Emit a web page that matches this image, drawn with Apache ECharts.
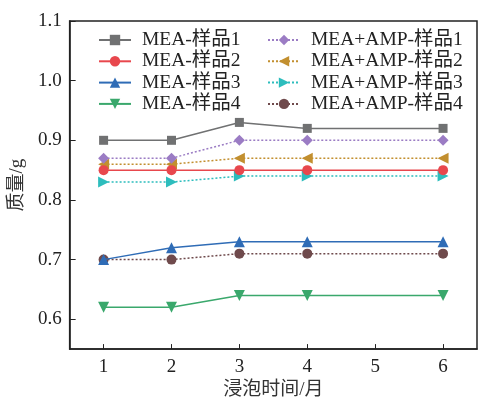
<!DOCTYPE html>
<html><head><meta charset="utf-8">
<script src="https://cdn.jsdelivr.net/npm/echarts@6/dist/echarts.min.js"></script>
<style>html,body{margin:0;padding:0;background:#fff}#c{width:478px;height:405px}</style>
</head><body><div id="c"></div>
<script>
const months = [1, 2, 3, 4, 6];
const xTicks = [1, 2, 3, 4, 5, 6];
const yTicks = [0.6, 0.7, 0.8, 0.9, 1.0, 1.1];
const names = ['MEA-样品1','MEA-样品2','MEA-样品3','MEA-样品4','MEA+AMP-样品1','MEA+AMP-样品2','MEA+AMP-样品3','MEA+AMP-样品4'];
const mea1 = [0.90, 0.90, 0.93, 0.92, 0.92];
const mea2 = [0.85, 0.85, 0.85, 0.85, 0.85];
const mea3 = [0.70, 0.72, 0.73, 0.73, 0.73];
const mea4 = [0.62, 0.62, 0.64, 0.64, 0.64];
const amp1 = [0.87, 0.87, 0.90, 0.90, 0.90];
const amp2 = [0.86, 0.86, 0.87, 0.87, 0.87];
const amp3 = [0.83, 0.83, 0.84, 0.84, 0.84];
const amp4 = [0.70, 0.70, 0.71, 0.71, 0.71];

const values = [mea1, mea2, mea3, mea4, amp1, amp2, amp3, amp4];
const colors = ['#707172','#e8474d','#2f6cb6','#3aa86c','#9b7cc4','#c28f2f','#2dbdbd','#6f4a4c'];
const symbols = ['rect','circle','triangle','path://M0,0 L10,0 L5,10 Z','diamond','path://M10,0 L10,10 L0,5 Z','path://M0,0 L0,10 L10,5 Z','circle'];
const sizes = [9, 10, 11, 11, 11, 11, 11, 10];
const FONT = '"Liberation Serif", "Noto Sans CJK SC", serif';

const series = names.map((n, i) => ({
  name: n,
  type: 'line',
  data: months.map((m, k) => [m, values[i][k]]),
  symbol: symbols[i],
  symbolSize: sizes[i],
  itemStyle: { color: colors[i] },
  lineStyle: { color: colors[i], width: 1.5, type: i < 4 ? 'solid' : [2, 2] },
  z: 10 - i
}));

const legendCommon = {
  orient: 'vertical',
  itemWidth: 32,
  itemHeight: 13,
  itemGap: 0.3,
  textStyle: { fontFamily: FONT, fontSize: 19.5, color: '#222', lineHeight: 21, padding: [0, 0, 0, 6] }
};

const chart = echarts.init(document.getElementById('c'), null, { renderer: 'canvas' });
chart.setOption({
  animation: false,
  backgroundColor: '#fff',
  color: colors,
  grid: { left: 68, right: 1, top: 21, bottom: 50, show: true, borderColor: '#222', borderWidth: 1.5, backgroundColor: 'transparent' },
  legend: [
    Object.assign({}, legendCommon, { left: 93, top: 24.5, data: names.slice(0, 4) }),
    Object.assign({}, legendCommon, { left: 262, top: 24.5, data: names.slice(4) })
  ],
  xAxis: {
    type: 'value', min: 0.5, max: 6.5,
    name: '浸泡时间/月', nameLocation: 'middle', nameGap: 31,
    nameTextStyle: { fontFamily: FONT, fontSize: 19, color: '#333' },
    axisLine: { show: true, lineStyle: { color: '#222', width: 1.5 } },
    axisTick: { show: true, inside: true, length: 5, customValues: xTicks, lineStyle: { color: '#222', width: 1 } },
    axisLabel: { customValues: xTicks, margin: 8, fontFamily: FONT, fontSize: 19, color: '#222' },
    splitLine: { show: false }
  },
  yAxis: {
    type: 'value', min: 0.55, max: 1.1,
    name: '质量/g', nameLocation: 'middle', nameGap: 40,
    nameTextStyle: { fontFamily: FONT, fontSize: 19, color: '#333' },
    axisLine: { show: true, lineStyle: { color: '#222', width: 1.5 } },
    axisTick: { show: true, inside: true, length: 6, customValues: yTicks, lineStyle: { color: '#222', width: 1 } },
    axisLabel: { customValues: yTicks, margin: 8, fontFamily: FONT, fontSize: 19, color: '#222', formatter: v => v.toFixed(1) },
    splitLine: { show: false }
  },
  series: series
});
</script></body></html>
